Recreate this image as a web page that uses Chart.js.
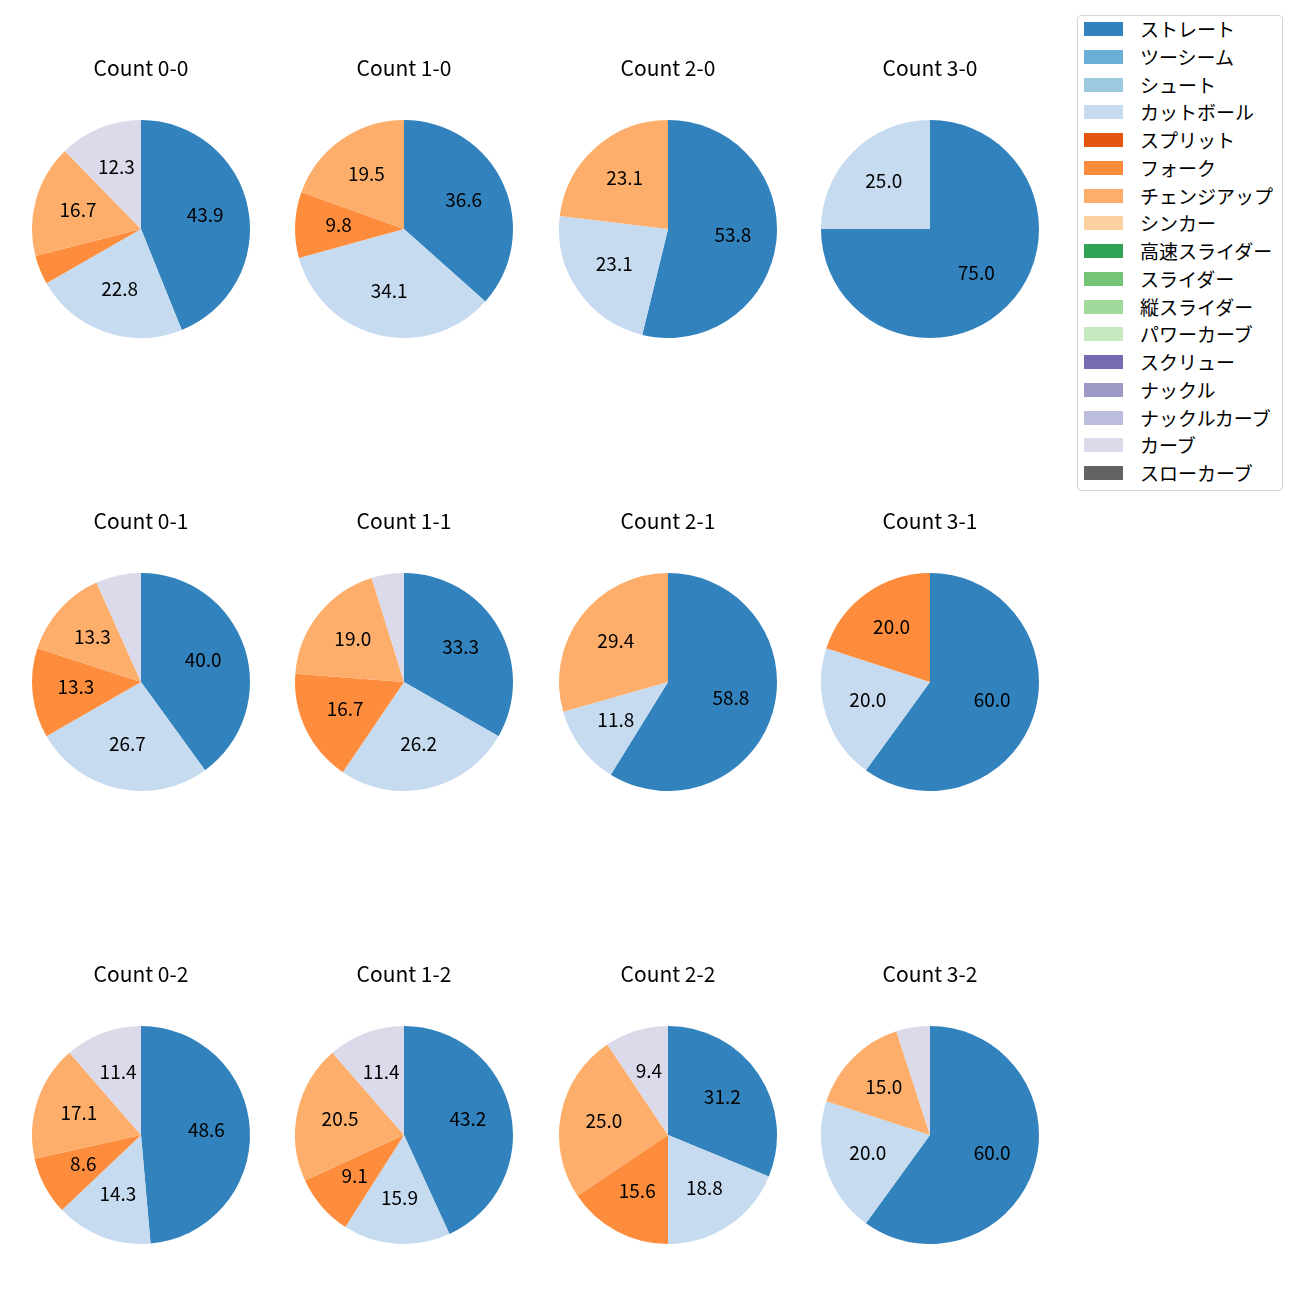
<!DOCTYPE html>
<html>
<head>
<meta charset="utf-8">
<script src="https://cdn.jsdelivr.net/npm/chart.js@4/dist/chart.umd.min.js"></script>
<style>
  body { margin: 0; background: #fff; font-family: "Noto Sans CJK JP", sans-serif; }
  #page { position: relative; width: 1300px; height: 1300px; }
  .pie { position: absolute; }
  #legend { position: absolute; left: 1077px; top: 15px; width: 204px; height: 474px;
            border: 1px solid #d5d5d5; border-radius: 4px; background: #fff; }
  .item { position: absolute; left: 6px; height: 24px; display: flex; align-items: center;
          font-size: 19px; line-height: 24px; color: #000; white-space: nowrap; }
  .sw { width: 39px; height: 14px; margin-right: 17px; flex: none; }
</style>
</head>
<body>
<div id="page"><div id="legend"></div></div>
<script>
// pitch types and tab20c colours, in legend order
const pitchTypes = ['ストレート', 'ツーシーム', 'シュート', 'カットボール', 'スプリット', 'フォーク',
  'チェンジアップ', 'シンカー', '高速スライダー', 'スライダー', '縦スライダー', 'パワーカーブ',
  'スクリュー', 'ナックル', 'ナックルカーブ', 'カーブ', 'スローカーブ'];
const pitchColors = ['#3182bd', '#6baed6', '#9ecae1', '#c6dbef', '#e6550d', '#fd8d3c',
  '#fdae6b', '#fdd0a2', '#31a354', '#74c476', '#a1d99b', '#c7e9c0',
  '#756bb1', '#9e9ac8', '#bcbddc', '#dadaeb', '#636363'];

// counts, row by row
const counts = ['0-0', '1-0', '2-0', '3-0', '0-1', '1-1', '2-1', '3-1', '0-2', '1-2', '2-2', '3-2'];

// share (%) per pitch type for each count above
const straight = [43.9, 36.6, 53.8, 75.0, 40.0, 33.3, 58.8, 60.0, 48.6, 43.2, 31.2, 60.0];
const cutter   = [22.8, 34.1, 23.1, 25.0, 26.7, 26.2, 11.8, 20.0, 14.3, 15.9, 18.8, 20.0];
const fork     = [4.3, 9.8, 0, 0, 13.3, 16.7, 0, 20.0, 8.6, 9.1, 15.6, 0];
const changeup = [16.7, 19.5, 23.1, 0, 13.3, 19.0, 29.4, 0, 17.1, 20.5, 25.0, 15.0];
const curve    = [12.3, 0, 0, 0, 6.7, 4.8, 0, 0, 11.4, 11.4, 9.4, 5.0];

const seriesByType = { 'ストレート': straight, 'カットボール': cutter, 'フォーク': fork,
  'チェンジアップ': changeup, 'カーブ': curve };

const minLabelPct = 8;

const colX = [141, 404, 668, 930];
const rowY = [229, 682, 1135];

const pctLabels = {
  id: 'pctLabels',
  afterDatasetsDraw(chart) {
    const ctx = chart.ctx;
    const vals = chart.data.datasets[0].data;
    const total = vals.reduce((a, b) => a + b, 0);
    ctx.save();
    ctx.font = '19px "Noto Sans CJK JP"';
    ctx.fillStyle = '#000';
    ctx.textAlign = 'center';
    ctx.textBaseline = 'middle';
    chart.getDatasetMeta(0).data.forEach((arc, i) => {
      const pct = vals[i] / total * 100;
      if (pct < minLabelPct) return;
      const p = arc.getProps(['x', 'y', 'startAngle', 'endAngle', 'outerRadius'], true);
      const mid = (p.startAngle + p.endAngle) / 2;
      // small upward nudge: CJK font metrics sit the digits low
      ctx.fillText(pct.toFixed(1), p.x + Math.cos(mid) * p.outerRadius * 0.6,
                   p.y + Math.sin(mid) * p.outerRadius * 0.6 - 2);
    });
    ctx.restore();
  }
};

const page = document.getElementById('page');

counts.forEach((c, i) => {
  const cx = colX[i % 4], cy = rowY[Math.floor(i / 4)];
  const canvas = document.createElement('canvas');
  canvas.className = 'pie';
  canvas.width = 240;
  canvas.height = 289;
  canvas.style.left = (cx - 120) + 'px';
  canvas.style.top = (cy - 176) + 'px';
  page.appendChild(canvas);

  new Chart(canvas, {
    type: 'pie',
    data: {
      labels: pitchTypes,
      datasets: [{
        data: pitchTypes.map(t => seriesByType[t] ? seriesByType[t][i] : 0),
        backgroundColor: pitchColors,
        borderWidth: 0,
        hoverOffset: 0
      }]
    },
    options: {
      responsive: false,
      animation: false,
      layout: { padding: { left: 11, right: 11, top: 0, bottom: 4 } },
      plugins: {
        legend: { display: false },
        tooltip: { enabled: false },
        title: {
          display: true,
          text: 'Count ' + c,
          color: '#000',
          font: { family: '"Noto Sans CJK JP"', size: 21, weight: 'normal', lineHeight: 1.2 },
          padding: { top: 2.2, bottom: 39.6 }
        }
      }
    },
    plugins: [pctLabels]
  });
});

// legend
const legend = document.getElementById('legend');
pitchTypes.forEach((t, i) => {
  const item = document.createElement('div');
  item.className = 'item';
  item.style.top = (1 + i * 27.75) + 'px';
  item.innerHTML = '<span class="sw" style="background:' + pitchColors[i] + '"></span>' + t;
  legend.appendChild(item);
});
</script>
</body>
</html>
